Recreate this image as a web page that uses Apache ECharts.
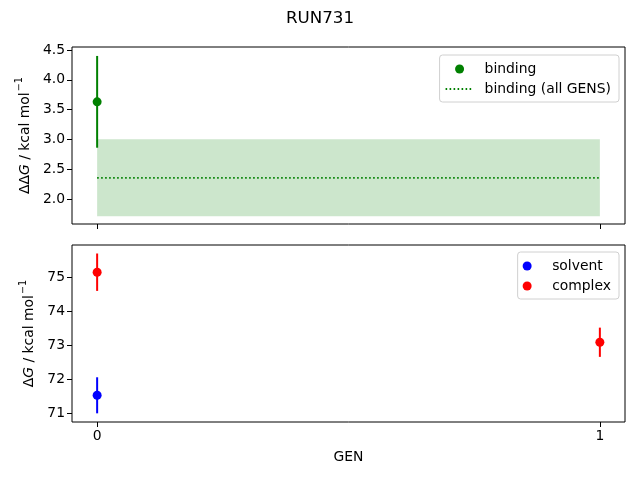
<!DOCTYPE html>
<html>
<head>
<meta charset="utf-8">
<script src="https://cdn.jsdelivr.net/npm/echarts@6/dist/echarts.min.js"></script>
<style>html,body{margin:0;padding:0;background:#fff;}#c{width:640px;height:480px;}</style>
</head>
<body>
<div id="c"></div>
<script>
// ---- data ----
const title = 'RUN731';
const xTicks = [0, 1];
const bindingGens = [0];
const bindingVal = [3.63];
const bindingErr = [0.77];
const allGensMean = 2.355;
const allGensErr = 0.645;
const solventGens = [0];
const solventVal = [71.52];
const solventErr = [0.53];
const complexGens = [0, 1];
const complexVal = [75.14, 73.08];
const complexErr = [0.55, 0.43];
const topTicks = [2.0, 2.5, 3.0, 3.5, 4.0, 4.5];
const bottomTicks = [71, 72, 73, 74, 75];

const FONT = 'DejaVu Sans';
const FS = 13.9;

function pts(xs, ys) { return xs.map((x, i) => [x, ys[i]]); }
function errs(xs, ys, es) { return xs.map((x, i) => [x, ys[i], es[i]]); }
function errSeries(xi, yi, data, color) {
  return {
    type: 'custom', xAxisIndex: xi, yAxisIndex: yi, data: data, z: 2, silent: true,
    encode: { x: 0, y: 1 },
    renderItem: function (params, api) {
      const x = api.value(0), y = api.value(1), e = api.value(2);
      const p1 = api.coord([x, y - e]);
      const p2 = api.coord([x, y + e]);
      return { type: 'line', shape: { x1: p1[0], y1: p1[1], x2: p2[0], y2: p2[1] },
        style: { stroke: color, lineWidth: 2 } };
    }
  };
}

const nameRich = {
  n: { fontFamily: FONT, fontSize: FS, color: '#000', verticalAlign: 'bottom', lineHeight: 22 },
  i: { fontFamily: FONT, fontSize: FS, fontStyle: 'italic', color: '#000', verticalAlign: 'bottom', lineHeight: 22 },
  s: { fontFamily: FONT, fontSize: 9.7, color: '#000', verticalAlign: 'bottom', lineHeight: 22, padding: [0, 0, 8, 1] }
};

const xAxisBase = {
  type: 'value', min: -0.05, max: 1.05,
  axisLine: { show: false, onZero: false },
  axisTick: { show: true, length: 5, lineStyle: { color: '#000', width: 1 }, customValues: xTicks },
  splitLine: { show: false }
};
const legendBase = {
  orient: 'vertical', right: 21, itemWidth: 28, itemHeight: 9, itemGap: 6,
  padding: [7, 8, 6, 5],
  borderColor: '#d0d0d0', borderWidth: 1, borderRadius: 3,
  backgroundColor: 'rgba(255,255,255,0.8)',
  textStyle: { fontFamily: FONT, fontSize: FS, color: '#000', padding: [0, 0, 0, 6] }
};

const chart = echarts.init(document.getElementById('c'), null, { renderer: 'canvas' });
chart.setOption({
  animation: false,
  backgroundColor: '#fff',
  title: { text: title, left: 'center', top: 5,
    textStyle: { fontFamily: FONT, fontSize: 16.7, fontWeight: 'normal', color: '#000' } },
  grid: [
    { left: 72, right: 15, top: 47, height: 177, show: true, borderColor: '#000', borderWidth: 1, backgroundColor: 'transparent' },
    { left: 72, right: 15, top: 245, height: 177, show: true, borderColor: '#000', borderWidth: 1, backgroundColor: 'transparent' }
  ],
  legend: [
    Object.assign({}, legendBase, { top: 55, data: ['binding', { name: 'binding (all GENS)', itemStyle: { opacity: 0 } }] }),
    Object.assign({}, legendBase, { top: 252, data: ['solvent', 'complex'] })
  ],
  xAxis: [
    Object.assign({}, xAxisBase, { gridIndex: 0, axisLabel: { show: false } }),
    Object.assign({}, xAxisBase, { gridIndex: 1,
      name: 'GEN', nameLocation: 'middle', nameGap: 28,
      nameTextStyle: { fontFamily: FONT, fontSize: FS, color: '#000' },
      axisLabel: { show: true, customValues: xTicks, fontFamily: FONT, fontSize: FS, color: '#000', margin: 7 } })
  ],
  yAxis: [
    { type: 'value', gridIndex: 0, min: 1.58, max: 4.55,
      axisLine: { show: false, onZero: false }, splitLine: { show: false },
      axisTick: { show: true, length: 5, lineStyle: { color: '#000' }, customValues: topTicks },
      axisLabel: { customValues: topTicks, formatter: v => v.toFixed(1), fontFamily: FONT, fontSize: FS, color: '#000', margin: 7 },
      name: '{n|ΔΔ}{i|G}{n| / kcal mol}{s|−1}', nameLocation: 'middle', nameGap: 34,
      nameTextStyle: { rich: nameRich } },
    { type: 'value', gridIndex: 1, min: 70.735, max: 75.94,
      axisLine: { show: false, onZero: false }, splitLine: { show: false },
      axisTick: { show: true, length: 5, lineStyle: { color: '#000' }, customValues: bottomTicks },
      axisLabel: { customValues: bottomTicks, fontFamily: FONT, fontSize: FS, color: '#000', margin: 7 },
      name: '{n|Δ}{i|G}{n| / kcal mol}{s|−1}', nameLocation: 'middle', nameGap: 33,
      nameTextStyle: { rich: nameRich } }
  ],
  series: [
    { name: 'binding (all GENS)', type: 'line', xAxisIndex: 0, yAxisIndex: 0,
      data: [[xTicks[0], allGensMean], [xTicks[1], allGensMean]],
      symbol: 'none', color: 'green', z: 1,
      lineStyle: { color: 'green', width: 1.8, type: [1.6, 2.4] },
      markArea: { silent: true, itemStyle: { color: 'rgba(0,128,0,0.2)' },
        data: [[{ xAxis: xTicks[0], yAxis: allGensMean - allGensErr }, { xAxis: xTicks[1], yAxis: allGensMean + allGensErr }]] } },
    errSeries(0, 0, errs(bindingGens, bindingVal, bindingErr), 'green'),
    { name: 'binding', type: 'scatter', xAxisIndex: 0, yAxisIndex: 0, data: pts(bindingGens, bindingVal),
      symbolSize: 9, itemStyle: { color: 'green', opacity: 1 }, z: 3 },
    errSeries(1, 1, errs(solventGens, solventVal, solventErr), 'blue'),
    errSeries(1, 1, errs(complexGens, complexVal, complexErr), 'red'),
    { name: 'solvent', type: 'scatter', xAxisIndex: 1, yAxisIndex: 1, data: pts(solventGens, solventVal),
      symbolSize: 9, itemStyle: { color: 'blue', opacity: 1 }, z: 3 },
    { name: 'complex', type: 'scatter', xAxisIndex: 1, yAxisIndex: 1, data: pts(complexGens, complexVal),
      symbolSize: 9, itemStyle: { color: 'red', opacity: 1 }, z: 3 }
  ]
});
</script>
</body>
</html>
